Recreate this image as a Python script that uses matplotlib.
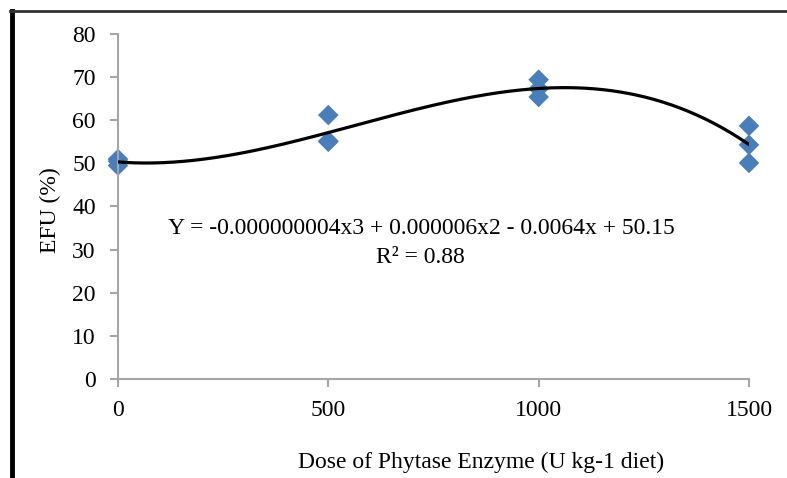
import matplotlib.pyplot as plt
import numpy as np
from matplotlib.lines import Line2D

# data
dose = [0, 0, 0, 500, 500, 500, 1000, 1000, 1000, 1500, 1500, 1500]
efu = [49.5, 50.5, 51.0, 61.2, 55.2, 55.0, 69.4, 67.3, 65.4, 58.7, 54.3, 50.1]
xticks = [0, 500, 1000, 1500]
yticks = [0, 10, 20, 30, 40, 50, 60, 70, 80]

plt.rcParams['font.family'] = ['Liberation Serif', 'DejaVu Serif']

fig = plt.figure(figsize=(7.87, 4.78), dpi=100)
ax = fig.add_axes([0.1499, 0.2071, 0.8018, 0.7218])

# cubic trend line fitted to the points
coef = np.polyfit(dose, efu, 3)
xs = np.linspace(0, 1500, 300)
ax.plot(xs, np.polyval(coef, xs), color='black', lw=2.3, zorder=3)

ax.scatter(dose, efu, marker='D', s=110, color='#4a7ebb', edgecolors='none',
           zorder=2, clip_on=False)

ax.set_xlim(0, 1500)
ax.set_ylim(0, 80)
ax.set_xticks(xticks)
ax.set_yticks(yticks)

for s in ['top', 'right']:
    ax.spines[s].set_visible(False)
for s in ['left', 'bottom']:
    ax.spines[s].set_color('#a6a6a6')
    ax.spines[s].set_linewidth(1.5)
ax.tick_params(axis='both', colors='#a6a6a6', length=6, width=1.5,
               labelcolor='black', labelsize=17)
ax.tick_params(axis='y', pad=10)
ax.tick_params(axis='x', pad=9)

ax.set_xlabel('Dose of Phytase Enzyme (U kg-1 diet)', fontsize=17)
ax.xaxis.set_label_coords(0.575, -0.21)
ax.set_ylabel('EFU (%)', fontsize=17)
ax.yaxis.set_label_coords(-0.09, 0.49)

fig.text(0.535, 0.521, 'Y = -0.000000004x3 + 0.000006x2 - 0.0064x + 50.15',
         ha='center', va='center', fontsize=17)
fig.text(0.534, 0.462, 'R² = 0.88', ha='center', va='center', fontsize=17)

# outer frame lines
fig.add_artist(Line2D([0.0152, 0.0152], [0.0, 0.978], color='black', lw=3.5))
fig.add_artist(Line2D([0.013, 1.0], [0.978, 0.978], color='#333333', lw=2))

fig.savefig('out.png', dpi=100)
